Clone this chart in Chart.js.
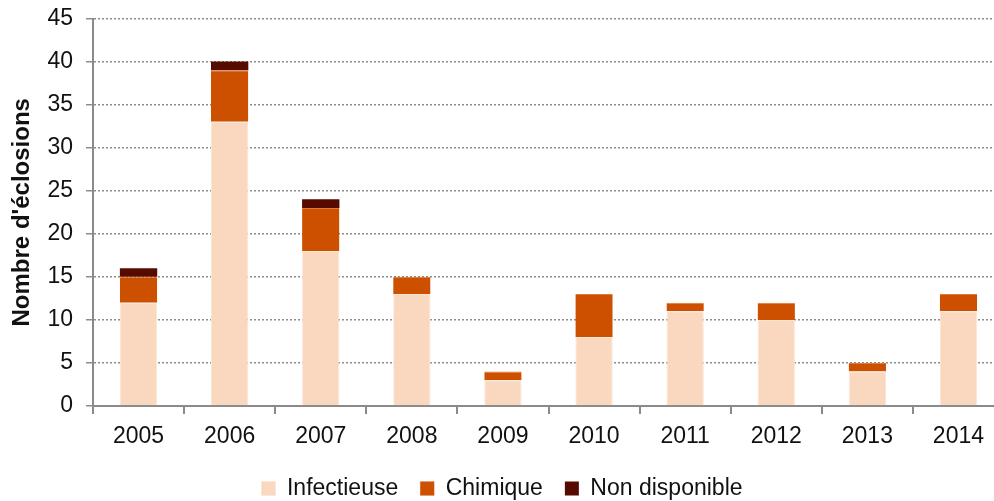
<!DOCTYPE html>
<html lang="fr">
<head>
  <meta charset="UTF-8">
  <title>Éclosions par année</title>
  <script src="https://cdn.jsdelivr.net/npm/chart.js@4.4.0/dist/chart.umd.min.js"></script>
  <style>
    html, body { margin: 0; padding: 0; background: #fff; overflow: hidden; }
    #wrap { width: 994px; height: 501px; overflow: hidden; }
    #chart { display: block; margin-top: -6px; }
  </style>
</head>
<body>
  <div id="wrap"><canvas id="chart" width="1004" height="507"></canvas></div>

  <script>
    // données
    const annees = ["2005", "2006", "2007", "2008", "2009", "2010", "2011", "2012", "2013", "2014"];
    const infectieuse = [12, 33, 18, 13, 3, 8, 11, 10, 4, 11];
    const chimique = [3, 6, 5, 2, 1, 5, 1, 2, 1, 2];
    const nonDisponible = [1, 1, 1, 0, 0, 0, 0, 0, 0, 0];
    const yTicks = [0, 5, 10, 15, 20, 25, 30, 35, 40, 45];

    const police = "'Liberation Sans', Arial, sans-serif";

    new Chart(document.getElementById('chart'), {
      type: 'bar',
      data: {
        labels: annees,
        datasets: [
          { label: "Infectieuse", data: infectieuse, backgroundColor: "#fad8bf", borderColor: "#fce6d5", borderWidth: 1 },
          { label: "Chimique", data: chimique, backgroundColor: "#cc5000", borderColor: "#e07a3a", borderWidth: { top: 1 } },
          { label: "Non disponible", data: nonDisponible, backgroundColor: "#560b00", borderWidth: 0 }
        ]
      },
      options: {
        responsive: false,
        animation: false,
        datasets: { bar: { categoryPercentage: 1, barPercentage: 0.41 } },
        layout: { padding: { top: 0, right: 0, left: 0, bottom: -9 } },
        plugins: {
          legend: {
            position: 'bottom',
            labels: {
              font: { family: police, size: 23 },
              color: '#111',
              boxWidth: 14,
              boxHeight: 14,
              padding: 22,
              useBorderRadius: false
            }
          },
          tooltip: { enabled: false }
        },
        scales: {
          x: {
            stacked: true,
            offset: true,
            grid: {
              offset: true,
              drawOnChartArea: false,
              drawTicks: true,
              tickLength: 8,
              color: '#8a8a8a',
              lineWidth: 2
            },
            border: { display: true, color: '#8a8a8a', width: 2 },
            ticks: { font: { family: police, size: 23 }, color: '#111', padding: 9 },
            afterFit: s => { s.height = 49; }
          },
          y: {
            stacked: true,
            min: 0,
            max: 45,
            afterBuildTicks: s => { s.ticks = yTicks.map(v => ({ value: v })); },
            grid: {
              color: '#8c8c8c',
              lineWidth: 1.5,
              tickLength: 7,
              tickBorderDash: [0, 0]
            },
            // en v4, border.dash s'applique aux lignes de grille
            border: { display: true, color: '#8a8a8a', width: 2, dash: [2, 2] },
            ticks: { font: { family: police, size: 23, lineHeight: 1 }, color: '#111', padding: 13 },
            title: {
              display: true,
              text: "Nombre d'éclosions",
              font: { family: police, size: 24, weight: 'bold' },
              color: '#111',
              padding: { top: 8, bottom: 0 }
            },
            afterFit: s => { s.width = 93; }
          }
        }
      }
    });
  </script>
</body>
</html>
